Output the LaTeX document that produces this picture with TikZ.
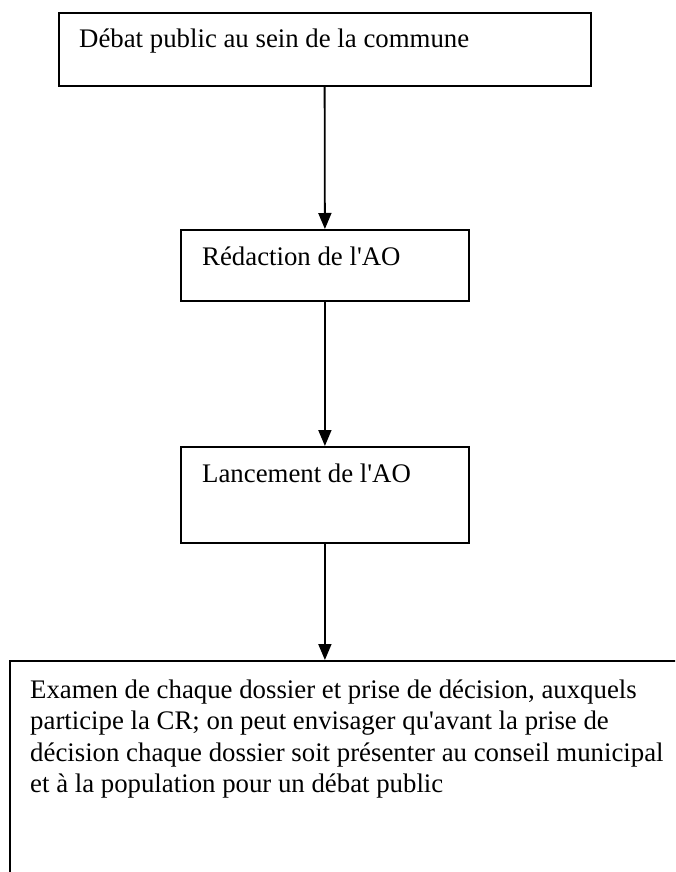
\documentclass[tikz,border=0pt]{standalone}
\usepackage{fontspec}
\newfontfamily\boxfont{Liberation Serif}
\usetikzlibrary{arrows.meta}
\begin{document}
\begin{tikzpicture}[x=1pt,y=-1pt,
  box/.style={draw, line width=1.8pt, rectangle, inner sep=0pt, anchor=north west},
  txt/.style={anchor=base west, inner sep=0pt, align=left,
              font=\boxfont\fontsize{26.8}{31.5}\selectfont},
  flow/.style={-{Triangle[length=16pt,width=13pt]}, line width=1.8pt}]
  \useasboundingbox (0,0) rectangle (675,872);
  \clip (0,0) rectangle (675,872);

  % process boxes
  \node[box, minimum width=532pt, minimum height=72.7pt] (b1) at (57.7,12.3) {};
  \node[box, minimum width=288pt, minimum height=71pt]   (b2) at (180,229) {};
  \node[box, minimum width=288pt, minimum height=96pt]   (b3) at (180,446) {};
  \node[box, minimum width=720pt, minimum height=260pt]  (b4) at (9.3,660) {};

  % box texts (a multi-line node sits on the baseline of its last line)
  \node[txt] (t1) at (79,48)  {Débat public au sein de la commune};
  \node[txt] (t2) at (202,265) {Rédaction de l'AO};
  \node[txt] (t3) at (202,482) {Lancement de l'AO};
  \node[txt] (t4) at (30,792.5) {Examen de chaque dossier et prise de décision, auxquels\\
    participe la CR; on peut envisager qu'avant la prise de\\
    décision chaque dossier soit présenter au conseil municipal\\
    et à la population pour un débat public};

  % connectors
  \draw[flow] (b1.south) -- (b2.north);
  \draw[flow] (b2.south) -- (b3.north);
  \draw[flow] (b3.south) -- (b3.south |- b4.north);
\end{tikzpicture}
\end{document}
